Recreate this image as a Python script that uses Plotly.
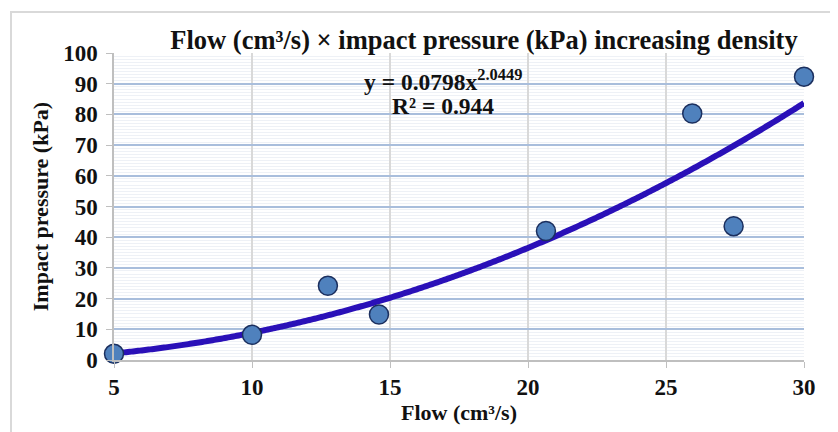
import numpy as np
import plotly.graph_objects as go

# Data
flow = [5.0, 10.0, 12.75, 14.6, 20.65, 25.95, 27.45, 30.0]
pressure = [2.0, 8.2, 24.2, 14.8, 42.0, 80.3, 43.6, 92.3]

# Power trendline coefficients shown on the chart
coef_a = 0.0798
coef_b = 2.0449
r2 = 0.944

x_ticks = [5, 10, 15, 20, 25, 30]
y_ticks = [0, 10, 20, 30, 40, 50, 60, 70, 80, 90, 100]

xt = np.linspace(5, 30, 400)
yt = coef_a * xt ** coef_b

FONT = "Liberation Serif"
TXT = "#111111"
OFF = 8  # page body margin in the browser

fig = go.Figure()
fig.add_trace(go.Scatter(
    x=xt, y=yt, mode="lines",
    line=dict(color="#2A10B8", width=6, simplify=False),
    hoverinfo="skip", showlegend=False, cliponaxis=False,
))
fig.add_trace(go.Scatter(
    x=flow, y=pressure, mode="markers",
    marker=dict(size=19, color="#4F81BD", line=dict(color="#1B2F5E", width=1.5)),
    showlegend=False, cliponaxis=False,
))

fig.update_layout(
    width=838, height=432,
    margin=dict(l=114 - OFF, r=34 + OFF, t=53 - OFF, b=72 + OFF, autoexpand=False),
    paper_bgcolor="white", plot_bgcolor="white",
    font=dict(family=FONT, color=TXT),
    title=dict(
        text="<b>Flow (cm³/s) × impact pressure (kPa) increasing density</b>",
        x=(484 - OFF) / 838, xanchor="center", y=1 - (40 - OFF) / 432, yanchor="middle",
        font=dict(family=FONT, size=26.5, color=TXT),
    ),
    xaxis=dict(
        range=[5, 30], tickvals=x_ticks, automargin=False,
        showgrid=True, gridcolor="#D9D9D9", gridwidth=1.5,
        showline=True, linecolor="#BFBFBF", linewidth=1.5,
        ticks="outside", ticklen=6, tickcolor="#BFBFBF",
        tickfont=dict(family=FONT, size=23, color=TXT, weight="bold"),
        title=dict(text="<b>Flow (cm³/s)</b>", font=dict(family=FONT, size=22, color=TXT), standoff=0),
        zeroline=False,
    ),
    yaxis=dict(
        range=[0, 100], tickvals=y_ticks, automargin=False,
        showgrid=True, gridcolor="#A9BEDC", gridwidth=1.5,
        showline=True, linecolor="#BFBFBF", linewidth=1.5,
        ticks="outside", ticklen=6, tickcolor="#BFBFBF",
        ticklabelstandoff=4,
        tickfont=dict(family=FONT, size=23, color=TXT, weight="bold"),
        title=dict(text="<b>Impact pressure (kPa)</b>", font=dict(family=FONT, size=22, color=TXT), standoff=8),
        minor=dict(dtick=1, showgrid=True, gridcolor="#EEF1F6", gridwidth=1),
        zeroline=False,
    ),
)

fig.add_annotation(
    xref="paper", yref="paper",
    x=(443 - 114) / 690, y=(360 - 80) / 307,
    text=f"<b>y = {coef_a}x<sup>{coef_b}</sup></b>",
    showarrow=False, font=dict(family=FONT, size=23.5, color=TXT),
    xanchor="center", yanchor="middle",
)
fig.add_annotation(
    xref="paper", yref="paper",
    x=(443 - 114) / 690, y=(360 - 106) / 307,
    text=f"<b>R² = {r2}</b>",
    showarrow=False, font=dict(family=FONT, size=23.5, color=TXT),
    xanchor="center", yanchor="middle",
)

# outer chart frame
fig.add_shape(
    type="rect", xref="paper", yref="paper",
    x0=(11 - 114) / 690, x1=(845 - 114) / 690,
    y0=(360 - 445) / 307, y1=(360 - 12) / 307,
    line=dict(color="#D9D9D9", width=2), layer="below",
)

fig.write_html("out.html")
